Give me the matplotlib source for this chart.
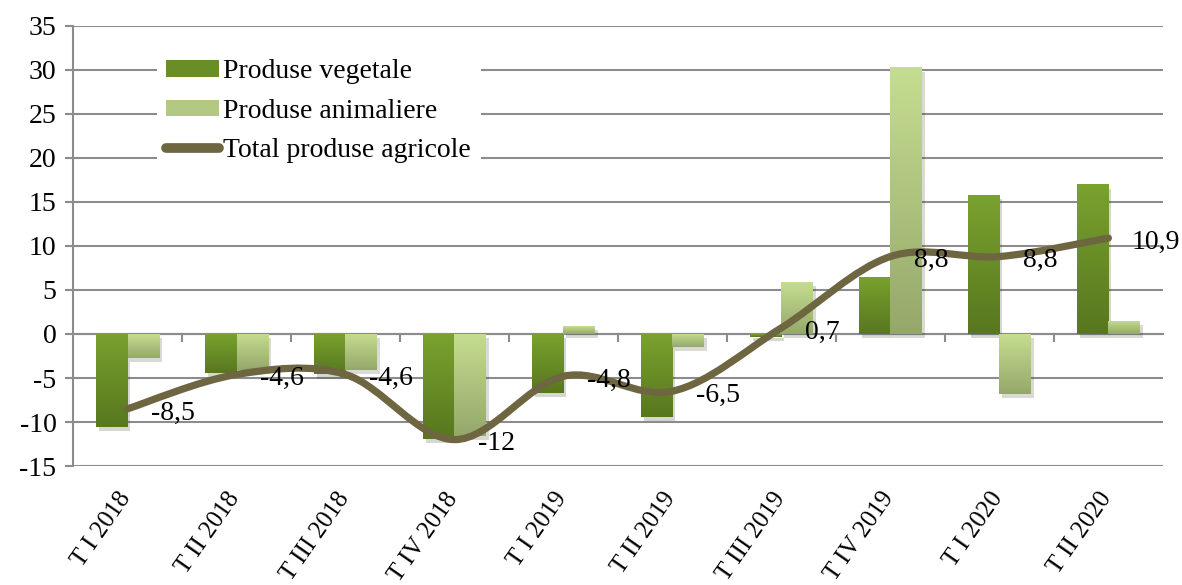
import matplotlib
matplotlib.use("Agg")
import matplotlib.pyplot as plt
import matplotlib.patheffects as pe
import matplotlib.transforms as mtransforms
import numpy as np
from matplotlib.lines import Line2D
from matplotlib.patches import PathPatch, Patch
from matplotlib.path import Path

# ── Datos ────────────────────────────────────────────────────────────────────
trimestre = ["T I 2018", "T II 2018", "T III 2018", "T IV 2018", "T I 2019",
             "T II 2019", "T III 2019", "T IV 2019", "T I 2020", "T II 2020"]
vegetale = [-10.6, -4.4, -4.6, -11.9, -6.7, -9.4, -0.3, 6.5, 15.8, 17.0]
animaliere = [-2.7, -4.1, -4.1, -11.6, 0.9, -1.5, 5.9, 30.3, -6.8, 1.5]
total = [-8.5, -4.6, -4.6, -12.0, -4.8, -6.5, 0.7, 8.8, 8.8, 10.9]

FONT = "Liberation Serif"
plt.rcParams["font.family"] = FONT
plt.rcParams["axes.unicode_minus"] = False

VERDE_OSC = ("#79A22E", "#58771F")
VERDE_CLA = ("#C5DD90", "#95A86B")
LINEA = "#6E6641"
GRIS = "#8C8C8C"


def barras_gradiente(ax, xs, vals, ancho, colores):
    c_top = np.array(matplotlib.colors.to_rgb(colores[0]))
    c_bot = np.array(matplotlib.colors.to_rgb(colores[1]))
    grad = np.linspace(0, 1, 64)[:, None, None]
    img = c_top * (1 - grad) + c_bot * grad
    bars = ax.bar(xs, vals, ancho, color=colores[1], linewidth=0, zorder=3,
                  path_effects=[pe.SimplePatchShadow(offset=(2, -3), alpha=0.18),
                                pe.Normal()])
    for b in bars:
        x0, y0 = b.get_x(), b.get_y()
        x1, y1 = x0 + b.get_width(), y0 + b.get_height()
        im = ax.imshow(img, extent=[x0, x1, min(y0, y1), max(y0, y1)],
                       aspect="auto", origin="upper", zorder=4,
                       interpolation="bilinear")
        im.set_clip_path(b)
    return bars


def curva_suave(x, y):
    """Bezier tipo Catmull-Rom (suavizado de Excel)."""
    pts = np.column_stack([x, y]).astype(float)
    n = len(pts)
    verts = [pts[0]]
    codes = [Path.MOVETO]
    for i in range(n - 1):
        p0 = pts[i - 1] if i > 0 else pts[i]
        p1, p2 = pts[i], pts[i + 1]
        p3 = pts[i + 2] if i + 2 < n else pts[i + 1]
        verts += [p1 + (p2 - p0) / 6, p2 - (p3 - p1) / 6, p2]
        codes += [Path.CURVE4] * 3
    return Path(verts, codes)


fig = plt.figure(figsize=(11.82, 5.85), dpi=100)
ax = fig.add_axes([0.0618, 0.2034, 0.922, 0.7522])

x = np.arange(len(trimestre))
ancho = 0.29
barras_gradiente(ax, x - ancho / 2, vegetale, ancho, VERDE_OSC)
barras_gradiente(ax, x + ancho / 2, animaliere, ancho, VERDE_CLA)

ax.add_patch(PathPatch(curva_suave(x, total), fill=False, edgecolor=LINEA,
                       lw=5.2, capstyle="round", joinstyle="round", zorder=6))

for xi, v in zip(x, total):
    txt = f"{v:g}".replace(".", ",")
    ax.annotate(txt, (xi, v), xytext=(17, -3), textcoords="offset points",
                ha="left", va="center", fontsize=20, zorder=7)

ax.set_xlim(-0.5, len(trimestre) - 0.5)
ax.set_ylim(-15, 35)
ax.set_yticks(np.arange(-15, 36, 5))
ax.grid(axis="y", color=GRIS, lw=1.5, zorder=0)
ax.set_axisbelow(True)
for s in ["top", "right", "bottom"]:
    ax.spines[s].set_visible(False)
ax.spines["left"].set_color(GRIS)
ax.spines["left"].set_linewidth(1.5)
ax.tick_params(axis="y", length=6, width=1.5, color=GRIS, labelsize=20, pad=6)

ax.set_xticks(x)
ax.set_xticklabels(trimestre, rotation=55, ha="right", rotation_mode="anchor",
                   fontsize=18)
ax.tick_params(axis="x", length=0, pad=16)
desplaza = mtransforms.ScaledTranslation(-0.1, 0, fig.dpi_scale_trans)
for lbl in ax.get_xticklabels():
    lbl.set_transform(lbl.get_transform() + desplaza)

# eje de categorias en y=0 con marcas entre grupos
sec = ax.secondary_xaxis(15 / 50)
sec.set_xticks(np.arange(0.5, len(trimestre) - 0.5, 1))
sec.tick_params(axis="x", length=6, width=1.5, color=GRIS, labelbottom=False,
                direction="out")
sec.spines["bottom"].set_color(GRIS)
sec.spines["bottom"].set_linewidth(1.5)

handles = [
    Patch(facecolor="#6A8E27", edgecolor="none"),
    Patch(facecolor="#B2C883", edgecolor="none"),
    Line2D([0], [0], color=LINEA, lw=7, solid_capstyle="round"),
]
leg = ax.legend(handles, ["Produse vegetale", "Produse animaliere",
                          "Total produse agricole"],
                loc="upper left", bbox_to_anchor=(0.064, 0.978), fontsize=20,
                frameon=True, fancybox=False, framealpha=1, edgecolor="none",
                handlelength=1.9, handleheight=0.55, handletextpad=0.15,
                labelspacing=0.52, borderpad=0.35)
leg.set_zorder(8)

fig.savefig("out.png", dpi=100)
